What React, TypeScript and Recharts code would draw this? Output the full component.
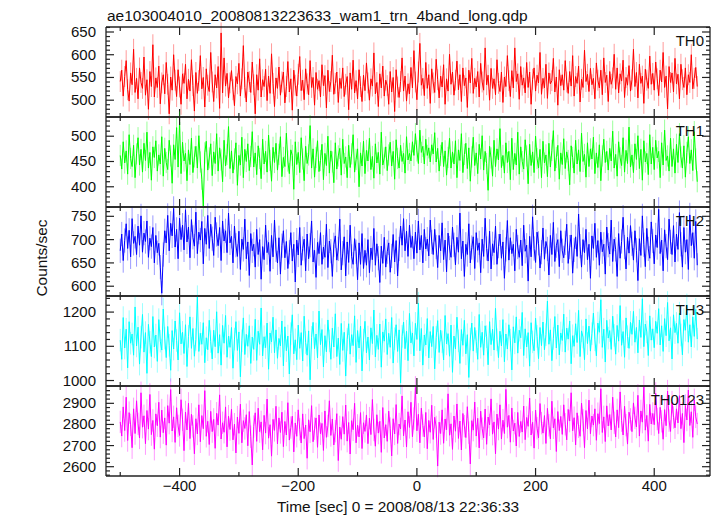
import { LineChart, Line, XAxis, YAxis, ErrorBar } from "recharts"

// light curve bins: start time and bin width (sec)
const t0 = -500
const dt = 2.5

const th0 = [
  541, 566, 509, 552, 587, 523, 498, 560, 534, 612, 517, 548, 503, 571, 539,
  526, 595, 511, 545, 480, 563, 530, 622, 507, 549, 528, 575, 492, 538, 556,
  514, 583, 535, 470, 551, 522, 600, 544, 508, 567, 529, 491, 558, 537, 579,
  503, 546, 520, 589, 532, 476, 561, 515, 543, 598, 525, 550, 485, 569, 533,
  519, 605, 540, 497, 556, 527, 574, 482, 648, 516, 593, 531, 559, 505, 538,
  565, 523, 488, 552, 536, 581, 509, 547, 620, 528, 496, 562, 541, 517, 584,
  534, 470, 556, 522, 591, 507, 545, 530, 568, 499, 553, 515, 602, 537, 486,
  549, 526, 573, 511, 540, 562, 494, 530, 585, 518, 547, 478, 566, 533, 509,
  557, 596, 521, 544, 501, 569, 536, 512, 587, 528, 550, 489, 561, 524, 543,
  507, 578, 532, 554, 483, 566, 519, 541, 599, 513, 537, 562, 495, 548, 526,
  571, 508, 535, 552, 479, 560, 524, 588, 516, 543, 503, 567, 530, 497, 555,
  521, 582, 538, 500, 547, 531, 604, 514, 539, 486, 558, 527, 575, 509, 544,
  532, 491, 563, 518, 550, 475, 567, 529, 506, 541, 593, 520, 553, 498, 536,
  514, 572, 527, 609, 540, 501, 562, 625, 533, 548, 510, 583, 526, 556, 493,
  569, 538, 517, 590, 545, 505, 553, 529, 578, 491, 547, 520, 601, 535, 562,
  511, 544, 586, 523, 556, 497, 571, 532, 549, 484, 566, 538, 592, 515, 548,
  529, 563, 507, 581, 540, 522, 615, 534, 555, 500, 570, 526, 547, 512, 589,
  537, 519, 562, 495, 551, 530, 598, 543, 508, 565, 527, 615, 541, 558, 502,
  574, 533, 549, 516, 583, 528, 562, 491, 546, 571, 520, 555, 538, 605, 513,
  548, 527, 579, 504, 560, 536, 543, 592, 518, 551, 489, 567, 532, 556, 522,
  587, 540, 515, 563, 531, 598, 509, 552, 537, 575, 496, 546, 528, 610, 541,
  557, 519, 570, 534, 548, 503, 582, 544, 527, 566, 512, 593, 539, 555, 497,
  563, 535, 549, 601, 524, 571, 516, 558, 542, 588, 506, 550, 533, 576, 520,
  545, 612, 530, 561, 505, 579, 537, 553, 493, 568, 544, 526, 597, 535, 559,
  522, 584, 547, 510, 566, 540, 605, 528, 553, 481, 574, 539, 560, 518, 592,
  536, 557, 503, 579, 545, 528, 571, 512, 556, 539, 600, 525, 548, 572, 530,
]

const th1 = [
  462, 435, 489, 447, 471, 425, 503, 456, 440, 482, 418, 465, 497, 443, 474,
  429, 486, 452, 508, 437, 468, 413, 479, 458, 491, 431, 463, 445, 499, 421,
  476, 448, 434, 492, 461, 407, 483, 454, 517, 439, 528, 426, 488, 451, 466,
  412, 473, 444, 496, 428, 459, 480, 437, 501, 449, 415, 362, 467, 490, 433,
  457, 485, 422, 469, 446, 505, 431, 477, 453, 410, 492, 441, 464, 519, 436,
  471, 427, 455, 487, 403, 462, 443, 498, 418, 474, 450, 485, 432, 460, 509,
  439, 467, 424, 481, 456, 416, 494, 445, 470, 429, 502, 452, 411, 478, 448,
  486, 433, 464, 499, 420, 458, 440, 506, 451, 426, 473, 462, 395, 489, 444,
  468, 428, 497, 455, 412, 480, 446, 463, 521, 437, 475, 419, 458, 491, 430,
  452, 484, 414, 466, 442, 500, 427, 471, 449, 408, 487, 435, 461, 476, 423,
  494, 446, 459, 418, 482, 438, 465, 503, 429, 454, 475, 400, 467, 441, 490,
  426, 472, 451, 496, 434, 460, 417, 485, 447, 468, 425, 508, 443, 457, 479,
  432, 463, 488, 441, 470, 415, 493, 456, 437, 482, 450, 466, 427, 499, 453,
  466, 451, 489, 462, 505, 471, 446, 512, 468, 480, 445, 494, 462, 477, 449,
  483, 465, 507, 449, 476, 431, 462, 488, 440, 471, 423, 458, 496, 437, 469,
  445, 491, 418, 473, 452, 505, 428, 464, 486, 436, 477, 411, 459, 498, 442,
  467, 426, 484, 455, 501, 433, 470, 446, 393, 480, 457, 421, 492, 440, 475,
  453, 515, 438, 462, 427, 487, 448, 470, 414, 496, 434, 466, 443, 508, 425,
  479, 450, 435, 493, 461, 406, 484, 442, 469, 428, 500, 456, 437, 474, 418,
  490, 447, 463, 420, 486, 439, 472, 511, 431, 458, 482, 415, 467, 444, 495,
  436, 469, 452, 404, 481, 458, 427, 492, 445, 473, 430, 506, 450, 464, 419,
  487, 440, 475, 455, 498, 426, 467, 438, 483, 412, 461, 494, 448, 470, 433,
  476, 451, 510, 437, 464, 421, 489, 457, 442, 497, 429, 472, 446, 518, 439,
  463, 428, 485, 454, 501, 436, 474, 413, 491, 449, 466, 424, 503, 445, 478,
  434, 492, 457, 470, 418, 487, 443, 512, 452, 461, 431, 496, 440, 475, 427,
  484, 448, 505, 459, 437, 481, 419, 468, 499, 446, 473, 432, 509, 455, 410,
]

const th2 = [
  676, 712, 655, 698, 734, 681, 720, 663, 745, 692, 707, 668, 729, 688, 751,
  673, 714, 696, 740, 662, 703, 685, 726, 650, 709, 672, 692, 641, 585, 668,
  719, 693, 752, 676, 735, 708, 767, 684, 722, 659, 746, 700, 731, 678, 764,
  695, 727, 661, 743, 705, 686, 759, 670, 716, 699, 739, 648, 724, 690, 752,
  681, 733, 702, 666, 748, 711, 687, 726, 655, 740, 697, 719, 672, 757, 693,
  707, 650, 729, 688, 664, 718, 636, 701, 679, 744, 659, 695, 623, 713, 676,
  690, 641, 722, 668, 700, 615, 685, 657, 731, 672, 694, 632, 709, 663, 742,
  678, 650, 704, 626, 687, 719, 661, 696, 638, 673, 715, 654, 690, 609, 699,
  667, 726, 645, 681, 701, 633, 712, 659, 688, 740, 652, 677, 619, 694, 670,
  715, 647, 684, 662, 733, 640, 697, 675, 621, 689, 708, 656, 680, 744, 635,
  671, 706, 622, 695, 651, 731, 664, 647, 702, 674, 614, 693, 647, 713, 638,
  677, 645, 700, 629, 682, 657, 724, 645, 691, 660, 608, 686, 649, 705, 641,
  674, 693, 630, 665, 711, 652, 698, 622, 680, 729, 688, 745, 676, 718, 664,
  731, 683, 707, 659, 716, 671, 740, 678, 709, 650, 722, 680, 701, 665, 742,
  695, 668, 722, 684, 640, 709, 676, 736, 657, 699, 631, 714, 682, 662, 727,
  689, 646, 705, 673, 757, 659, 697, 621, 690, 668, 734, 650, 683, 706, 638,
  715, 677, 693, 629, 701, 664, 746, 681, 654, 718, 637, 691, 672, 729, 647,
  686, 712, 660, 695, 617, 679, 741, 656, 704, 670, 690, 633, 722, 684, 662,
  699, 644, 731, 675, 688, 611, 707, 663, 749, 681, 651, 716, 692, 639, 673,
  725, 658, 696, 680, 624, 709, 668, 737, 653, 687, 700, 642, 719, 676, 661,
  693, 733, 649, 684, 710, 628, 678, 706, 664, 755, 686, 641, 700, 672, 722,
  657, 690, 617, 708, 681, 735, 662, 698, 645, 716, 674, 690, 626, 727, 688,
  669, 742, 653, 701, 679, 621, 713, 660, 696, 748, 684, 637, 705, 671, 730,
  691, 656, 719, 677, 612, 702, 666, 751, 689, 642, 724, 680, 660, 738, 697,
  648, 710, 683, 765, 670, 699, 633, 721, 686, 657, 744, 695, 668, 730, 652,
  712, 679, 758, 690, 641, 726, 673, 700, 636, 753, 687, 715, 660, 739, 645,
]

const th3 = [
  1118, 1062, 1184, 1095, 1150, 1037, 1172, 1109, 1136, 1074, 1215, 1101, 1156, 1048, 1127,
  1193, 1083, 1140, 1021, 1164, 1112, 1070, 1187, 1098, 1133, 1056, 1178, 1115, 1089, 1209,
  1124, 1067, 1158, 1103, 1030, 1146, 1092, 1174, 1117, 1060, 1198, 1107, 1141, 1079, 1163,
  1041, 1129, 1186, 1094, 1152, 1071, 1120, 1245, 1085, 1138, 1106, 1169, 1052, 1125, 1090,
  1176, 1114, 1063, 1147, 1099, 1201, 1080, 1134, 1045, 1161, 1109, 1190, 1068, 1130, 1097,
  1155, 1036, 1121, 1172, 1088, 1142, 1011, 1116, 1183, 1076, 1135, 1100, 1160, 1050, 1127,
  1091, 1179, 1059, 1144, 1106, 1212, 1072, 1128, 1096, 1168, 1033, 1139, 1113, 1185, 1081,
  1148, 1065, 1123, 1101, 1174, 1043, 1157, 1087, 1130, 1019, 1137, 1192, 1078, 1119, 1061,
  1162, 1094, 1140, 1057, 1188, 1111, 1074, 1145, 1002, 1126, 1170, 1093, 1136, 1066, 1203,
  1105, 1149, 1040, 1131, 1084, 1177, 1116, 1062, 1153, 1098, 1195, 1070, 1124, 1047, 1167,
  1088, 1141, 1013, 1120, 1166, 1077, 1134, 1102, 1189, 1053, 1146, 1095, 1159, 1028, 1118,
  1173, 1081, 1127, 1060, 1154, 1108, 1206, 1069, 1132, 1091, 1165, 1039, 1142, 1115, 1180,
  1076, 1138, 1097, 1184, 1051, 1122, 1163, 1085, 1148, 993, 1129, 1171, 1093, 1144, 1058,
  1196, 1110, 1139, 1072, 1167, 1120, 1226, 1087, 1152, 1045, 1133, 1104, 1181, 1066, 1143,
  1099, 1158, 1034, 1126, 1175, 1082, 1147, 1113, 1060, 1190, 1107, 1137, 1071, 1162, 1024,
  1130, 1092, 1185, 1116, 1050, 1149, 1103, 1176, 1078, 1134, 1009, 1121, 1168, 1086, 1155,
  1114, 1062, 1193, 1097, 1141, 1074, 1160, 1128, 1046, 1172, 1105, 1150, 1089, 1211, 1119,
  1067, 1144, 1101, 1178, 1055, 1136, 1092, 1163, 1118, 1031, 1157, 1110, 1186, 1080, 1147,
  1125, 1199, 1073, 1151, 1098, 1140, 1042, 1169, 1113, 1087, 1182, 1129, 1064, 1155, 1102,
  1171, 1090, 1134, 1232, 1106, 1148, 1058, 1123, 1187, 1095, 1162, 1075, 1139, 1117, 1194,
  1083, 1153, 1121, 1174, 1049, 1131, 1100, 1166, 1111, 1205, 1070, 1145, 1127, 1061, 1180,
  1108, 1159, 1086, 1137, 1197, 1119, 1072, 1168, 1141, 1236, 1097, 1150, 1054, 1176, 1124,
  1146, 1091, 1188, 1132, 1077, 1161, 1115, 1219, 1103, 1143, 1068, 1183, 1128, 1094, 1170,
  1135, 1202, 1112, 1155, 1081, 1177, 1126, 1239, 1099, 1165, 1142, 1073, 1189, 1118, 1151,
  1096, 1173, 1138, 1210, 1104, 1160, 1085, 1181, 1131, 1228, 1116, 1154, 1063, 1192, 1140,
  1167, 1109, 1197, 1133, 1075, 1178, 1147, 1221, 1112, 1163, 1098, 1186, 1129, 1208, 1121,
]

const th0123 = [
  2812, 2745, 2883, 2771, 2929, 2724, 2856, 2798, 2690, 2874, 2757, 2912, 2803, 2736, 2950,
  2787, 2841, 2709, 2866, 2778, 2942, 2752, 2819, 2683, 2850, 2794, 2905, 2740, 2868, 2761,
  2831, 2702, 2889, 2806, 2965, 2769, 2836, 2715, 2879, 2793, 2748, 2917, 2822, 2676, 2859,
  2774, 2900, 2733, 2848, 2791, 2661, 2827, 2755, 2893, 2718, 2842, 2780, 2960, 2744, 2815,
  2705, 2862, 2766, 2824, 2687, 2853, 2797, 2940, 2731, 2808, 2763, 2883, 2694, 2839, 2776,
  2872, 2727, 2801, 2665, 2835, 2758, 2896, 2713, 2818, 2781, 2846, 2699, 2861, 2742, 2608,
  2790, 2855, 2720, 2877, 2766, 2812, 2680, 2843, 2759, 2920, 2735, 2799, 2650, 2824, 2772,
  2886, 2708, 2831, 2762, 2858, 2695, 2814, 2750, 2903, 2726, 2785, 2839, 2670, 2807, 2744,
  2869, 2777, 2712, 2850, 2733, 2797, 2640, 2822, 2765, 2889, 2718, 2780, 2831, 2692, 2845,
  2756, 2805, 2677, 2864, 2739, 2793, 2912, 2748, 2826, 2703, 2768, 2851, 2629, 2788, 2730,
  2837, 2754, 2892, 2721, 2809, 2660, 2818, 2775, 2900, 2713, 2796, 2741, 2856, 2686, 2808,
  2767, 2845, 2709, 2830, 2752, 2918, 2774, 2697, 2846, 2759, 2815, 2668, 2880, 2736, 2799,
  2720, 2863, 2781, 2651, 2827, 2755, 2894, 2710, 2802, 2779, 2935, 2746, 2821, 2693, 2860,
  2786, 2905, 2742, 2828, 2976, 2770, 2848, 2713, 2877, 2795, 2741, 2857, 2685, 2819, 2763,
  2891, 2729, 2834, 2788, 2603, 2811, 2757, 2869, 2711, 2826, 2775, 2945, 2749, 2803, 2682,
  2840, 2768, 2897, 2734, 2816, 2679, 2852, 2792, 2738, 2884, 2761, 2613, 2818, 2773, 2906,
  2745, 2829, 2689, 2863, 2780, 2736, 2873, 2706, 2835, 2798, 2921, 2754, 2812, 2661, 2849,
  2778, 2893, 2731, 2820, 2757, 2966, 2787, 2843, 2716, 2878, 2769, 2806, 2698, 2857, 2743,
  2814, 2764, 2887, 2728, 2833, 2791, 2925, 2750, 2810, 2688, 2868, 2782, 2736, 2899, 2806,
  2759, 2842, 2710, 2876, 2796, 2732, 2910, 2784, 2827, 2672, 2861, 2771, 2838, 2753, 2893,
  2801, 2727, 2871, 2816, 2950, 2770, 2832, 2703, 2855, 2789, 2744, 2901, 2820, 2690, 2866,
  2779, 2915, 2756, 2840, 2797, 2874, 2725, 2851, 2804, 2969, 2762, 2836, 2719, 2888, 2793,
  2847, 2774, 2929, 2808, 2741, 2869, 2785, 2954, 2818, 2750, 2886, 2797, 2707, 2858, 2824,
  2766, 2902, 2831, 2788, 2938, 2745, 2864, 2811, 2977, 2773, 2843, 2721, 2895, 2802, 2852,
  2799, 2947, 2826, 2757, 2881, 2815, 2730, 2870, 2794, 2958, 2818, 2767, 2906, 2833, 2784,
  2874, 2807, 2936, 2780, 2852, 2714, 2890, 2821, 2963, 2795, 2860, 2739, 2917, 2836, 2802,
]

const series = [th0, th1, th2, th3, th0123]
const names = ["TH0", "TH1", "TH2", "TH3", "TH0123"]
const colors = ["#ff0000", "#00ff00", "#0000ff", "#00ffff", "#ff00ff"]
const errors = [23, 21, 26, 33, 53]
const yDomains = [[463, 661], [360, 538], [579, 770], [984, 1247], [2556, 2982]]
const yMajor = [
  [500, 550, 600, 650],
  [400, 450, 500],
  [600, 650, 700, 750],
  [1000, 1100, 1200],
  [2600, 2700, 2800, 2900],
]
const yMinorStep = [10, 10, 10, 20, 20]
const xMajor = [-400, -200, 0, 200, 400]
const xTicks = [-500, -400, -300, -200, -100, 0, 100, 200, 300, 400]

const W = 717
const H = 516
const left = 106
const right = 710
const panelTops = [27, 117, 207, 296, 386]
const bottom = 476
const xDomain = [-524, 494]
const frame = "#222"
const font = "'Liberation Sans', Arial, Helvetica, sans-serif"

const fmt = (v: number) => (v < 0 ? "\u2212" + Math.abs(v) : String(v))

function stepTicks(lo: number, hi: number, step: number) {
  const out: number[] = []
  for (let v = Math.ceil(lo / step) * step; v <= hi; v += step) out.push(v)
  return out
}

function xTick(side: "top" | "bottom", label: boolean) {
  return (p: any) => {
    const v = p.payload.value
    const major = xMajor.includes(v)
    const len = major ? 8 : 4
    const dir = side === "bottom" ? -1 : 1
    return (
      <g>
        <line x1={p.x} x2={p.x} y1={p.y} y2={p.y + dir * len} stroke={frame} strokeWidth={1.2} />
        {label && major && (
          <text x={p.x} y={p.y + 15} textAnchor="middle" fontSize={15} fill="#111" fontFamily={font}>
            {fmt(v)}
          </text>
        )}
      </g>
    )
  }
}

function yTick(side: "left" | "right", majors: number[]) {
  return (p: any) => {
    const v = p.payload.value
    const major = majors.includes(v)
    const len = major ? 8 : 4
    const dir = side === "left" ? 1 : -1
    return (
      <g>
        <line x1={p.x} x2={p.x + dir * len} y1={p.y} y2={p.y} stroke={frame} strokeWidth={1.2} />
        {side === "left" && major && (
          <text x={p.x - 10} y={p.y + 5} textAnchor="end" fontSize={15} fill="#111" fontFamily={font}>
            {v}
          </text>
        )}
      </g>
    )
  }
}

function Panel({ k }: { k: number }) {
  const top = panelTops[k]
  const bot = k < 4 ? panelTops[k + 1] : bottom
  const last = k === 4
  const rows = series[k].map((v, i) => ({ t: t0 + i * dt, v, e: errors[k] }))
  const [lo, hi] = yDomains[k]
  const yTicks = stepTicks(lo, hi, yMinorStep[k])
  const axisLine = { stroke: frame, strokeWidth: 1.3 }
  // every axis keeps 1px of room so that it gets drawn
  return (
    <div style={{ position: "absolute", left: 0, top: 0 }}>
      <LineChart
        width={W}
        height={H}
        data={rows}
        margin={{ top: top - 1, bottom: H - bot - 1, left: left - 1, right: W - right - 1 }}
      >
        <XAxis
          xAxisId="b"
          dataKey="t"
          type="number"
          domain={xDomain}
          ticks={xTicks}
          interval={0}
          height={1}
          tickSize={0}
          tickMargin={0}
          tick={xTick("bottom", last)}
          axisLine={axisLine}
          allowDataOverflow
        />
        <XAxis
          xAxisId="t"
          orientation="top"
          dataKey="t"
          type="number"
          domain={xDomain}
          ticks={xTicks}
          interval={0}
          height={1}
          tickSize={0}
          tickMargin={0}
          tick={xTick("top", false)}
          axisLine={axisLine}
          allowDataOverflow
        />
        <YAxis
          yAxisId="l"
          type="number"
          domain={[lo, hi]}
          ticks={yTicks}
          interval={0}
          width={1}
          tickSize={0}
          tickMargin={0}
          tick={yTick("left", yMajor[k])}
          axisLine={axisLine}
          allowDataOverflow
        />
        <YAxis
          yAxisId="r"
          orientation="right"
          type="number"
          domain={[lo, hi]}
          ticks={yTicks}
          interval={0}
          width={1}
          tickSize={0}
          tickMargin={0}
          tick={yTick("right", yMajor[k])}
          axisLine={axisLine}
          allowDataOverflow
        />
        <Line
          xAxisId="b"
          yAxisId="l"
          dataKey="v"
          stroke={colors[k]}
          strokeWidth={1}
          dot={false}
          isAnimationActive={false}
          type="linear"
        >
          <ErrorBar
            dataKey="e"
            width={0}
            direction="y"
            stroke={colors[k]}
            strokeOpacity={0.4}
            strokeWidth={1}
            isAnimationActive={false}
          />
        </Line>
      </LineChart>
    </div>
  )
}

export default function App() {
  return (
    <div
      style={{
        position: "absolute",
        left: 0,
        top: 0,
        width: W,
        height: H,
        background: "#fff",
        fontFamily: font,
      }}
    >
      {series.map((_, k) => (
        <Panel key={k} k={k} />
      ))}
      <svg width={W} height={H} style={{ position: "absolute", left: 0, top: 0, pointerEvents: "none" }}>
        <text x={107} y={20.5} fontSize={15.5} fill="#111" fontFamily={font}>
          ae103004010_20080813223633_wam1_trn_4band_long.qdp
        </text>
        <text x={398} y={512} fontSize={15.4} fill="#111" textAnchor="middle" fontFamily={font}>
          Time [sec] 0 = 2008/08/13 22:36:33
        </text>
        <text
          x={0}
          y={0}
          fontSize={15.4}
          fill="#111"
          textAnchor="middle"
          fontFamily={font}
          transform="translate(46.5 258) rotate(-90)"
        >
          Counts/sec
        </text>
        {names.map((n, k) => (
          <text key={n} x={704} y={panelTops[k] + 18.5} fontSize={15} fill="#111" textAnchor="end" fontFamily={font}>
            {n}
          </text>
        ))}
      </svg>
    </div>
  )
}
